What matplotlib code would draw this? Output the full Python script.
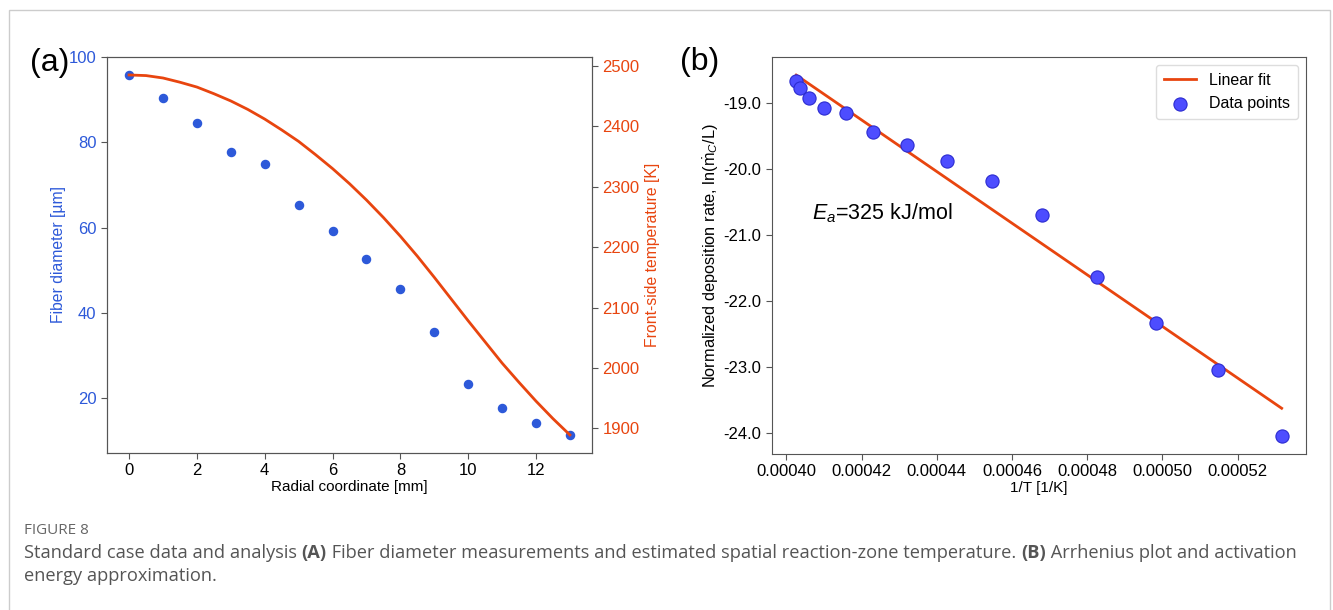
# fiber diameter / temperature profile and arrhenius plot

import numpy as np
import matplotlib.pyplot as plt
from matplotlib.ticker import FormatStrFormatter
from matplotlib.patches import Rectangle

plt.rcParams['font.family'] = ['Liberation Sans', 'DejaVu Sans']
plt.rcParams['mathtext.fontset'] = 'custom'
plt.rcParams['mathtext.rm'] = 'Liberation Sans'
plt.rcParams['mathtext.it'] = 'Liberation Sans:italic'

# panel (a)
radial = np.arange(0, 14)
diameter = [95.8, 90.5, 84.5, 77.8, 75.0, 65.3, 59.2, 52.7, 45.6, 35.6,
            23.4, 17.8, 14.1, 11.4]
curve_r = [0, 0.5, 1, 1.5, 2, 2.5, 3, 3.5, 4, 4.5, 5, 5.5, 6, 6.5, 7, 7.5,
           8, 8.5, 9, 9.5, 10, 10.5, 11, 11.5, 12, 12.5, 13]
temperature = [2485, 2484, 2480, 2473, 2465, 2454, 2442, 2428, 2412, 2394,
               2375, 2353, 2330, 2305, 2278, 2249, 2218, 2185, 2150, 2114,
               2078, 2043, 2008, 1976, 1945, 1916, 1889]

# panel (b)
inv_T = [0.0004026, 0.0004036, 0.0004060, 0.0004101, 0.0004158, 0.0004230,
         0.0004321, 0.0004426, 0.0004547, 0.0004680, 0.0004826, 0.0004982,
         0.0005147, 0.0005317]
ln_rate = [-18.67, -18.78, -18.92, -19.085, -19.16, -19.44, -19.645, -19.88,
           -20.18, -20.70, -21.64, -22.34, -23.05, -24.05]
fit_x = [0.0004026, 0.0005317]
fit_y = [-18.58, -23.63]

blue = '#2d59d9'
orange = '#e8450f'
spine_col = '#555555'

fig = plt.figure(figsize=(13.33, 6.10), dpi=100)
fig.patches.append(Rectangle((9 / 1333, -0.1), 1321 / 1333, 1.1 - 10 / 610,
                             transform=fig.transFigure, fill=False,
                             edgecolor='#cccccc', lw=1))

ax1 = fig.add_axes([0.0803, 0.2574, 0.3638, 0.6492])
ax1.scatter(radial, diameter, s=34, color=blue, zorder=3)
ax1.set_xlabel("Radial coordinate [mm]", fontsize=11, labelpad=1)
ax1.set_ylabel("Fiber diameter [µm]", color=blue, fontsize=11.3, labelpad=2)
ax1.tick_params(axis='y', labelcolor=blue)
ax1.set_xticks([0, 2, 4, 6, 8, 10, 12])
ax1.set_yticks([20, 40, 60, 80, 100])

ax2 = ax1.twinx()
ax2.plot(curve_r, temperature, color=orange, lw=2)
ax2.set_ylabel("Front-side temperature [K]", color=orange, fontsize=11.3)
ax2.tick_params(axis='y', labelcolor=orange)
ax2.set_yticks([1900, 2000, 2100, 2200, 2300, 2400, 2500])

ax3 = fig.add_axes([0.5791, 0.2557, 0.4006, 0.6508])
ax3.plot(fit_x, fit_y, color=orange, lw=2, label="Linear fit", zorder=2)
ax3.scatter(inv_T, ln_rate, s=90, color='#4d4dff', edgecolor='#2b2bd0',
            lw=0.8, label="Data points", zorder=3)
ax3.set_xlabel("1/T [1/K]", fontsize=11, labelpad=1)
ax3.set_ylabel(r"Normalized deposition rate, ln($\mathrm{\dot{m}}_C$/L)",
               fontsize=11.8, labelpad=2)
ax3.xaxis.set_major_formatter(FormatStrFormatter('%.5f'))
ax3.yaxis.set_major_formatter(FormatStrFormatter('%.1f'))
ax3.set_xticks([0.0004, 0.00042, 0.00044, 0.00046, 0.00048, 0.0005, 0.00052])
ax3.set_yticks([-19, -20, -21, -22, -23, -24])
ax3.text(0.075, 0.607, r"$E_a$=325 kJ/mol", transform=ax3.transAxes,
         fontsize=15.5, va='center')
ax3.legend(loc='upper right', fontsize=11.5, framealpha=1,
           edgecolor='#dddddd', borderpad=0.5)

for ax in (ax1, ax2, ax3):
    for sp in ax.spines.values():
        sp.set_color(spine_col)
    ax.tick_params(labelsize=12, color=spine_col, length=4)

fig.text(30 / 1333, 1 - 63 / 610, "(a)", fontsize=23, va='center')
fig.text(680 / 1333, 1 - 62 / 610, "(b)", fontsize=23, va='center')

# caption
cap_font = ['Open Sans', 'DejaVu Sans']
fig.text(24 / 1333, 1 - 531 / 610, "FIGURE 8", fontsize=11, color='#666666',
         family=cap_font, va='center')
renderer = fig.canvas.get_renderer()
parts = [("Standard case data and analysis ", 'normal'), ("(A)", 'bold'),
         (" Fiber diameter measurements and estimated spatial reaction-zone "
          "temperature. ", 'normal'), ("(B)", 'bold'),
         (" Arrhenius plot and activation", 'normal')]
x = 24
for txt, w in parts:
    t = fig.text(x / 1333, 1 - 553 / 610, txt, fontsize=13.15, color='#555555',
                 family=cap_font, weight=w, va='center')
    x = t.get_window_extent(renderer).x1
fig.text(24 / 1333, 1 - 576 / 610, "energy approximation.", fontsize=13.15,
         color='#555555', family=cap_font, va='center')

plt.savefig("out.png", dpi=100)
